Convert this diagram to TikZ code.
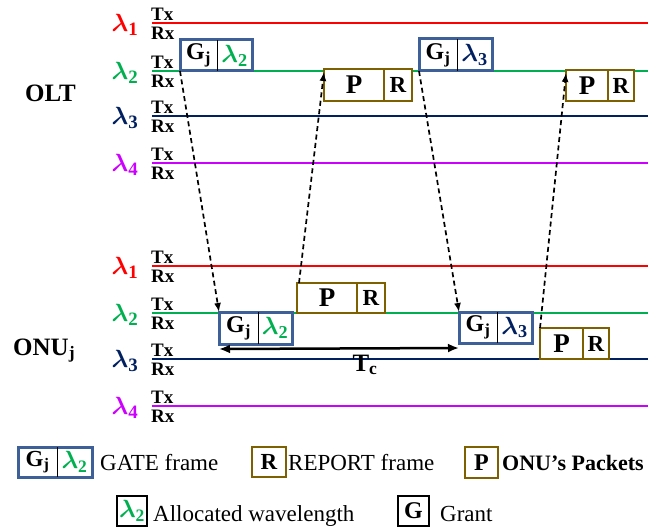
\documentclass[tikz,border=0pt]{standalone}
\usepackage{bm}
\usepackage{fontspec}
\setmainfont{Liberation Serif}
\usetikzlibrary{arrows.meta}

\definecolor{wlred}{HTML}{FF0000}
\definecolor{wlgreen}{HTML}{00B050}
\definecolor{wlnavy}{HTML}{002060}
\definecolor{wlviolet}{HTML}{CC00FF}
\definecolor{gateblue}{HTML}{3E6098}
\definecolor{repbrown}{HTML}{7F6000}

% bold italic lambda with a bold subscript
\newcommand{\lam}[1]{$\bm{\lambda}_{\mathbf{#1}}$}
\newcommand{\gj}{G\textsubscript{j}}

\tikzset{
  wl/.style={line width=2.8pt},
  lamlab/.style={inner sep=0pt, font=\fontsize{27}{28}\selectfont},
  txrx/.style={inner sep=0pt, anchor=west, font=\bfseries\fontsize{19}{20}\selectfont},
  side/.style={inner sep=0pt, anchor=base west, font=\bfseries\fontsize{25}{26}\selectfont},
  gcell/.style={inner sep=0pt, outer sep=0pt, fill=white, font=\bfseries\fontsize{24}{25}\selectfont},
  lamcell/.style={gcell, font=\fontsize{26}{27}\selectfont},
  gframe/.style={draw=gateblue, line width=3pt},
  gdiv/.style={draw=black, line width=1pt},
  prcell/.style={draw=repbrown, line width=2.8pt, fill=white, inner sep=0pt, outer sep=0pt},
  pfont/.style={font=\bfseries\fontsize{27}{28}\selectfont},
  rfont/.style={font=\bfseries\fontsize{23}{24}\selectfont},
  dasharr/.style={draw=black, line width=1.7pt, dash pattern=on 5pt off 3.5pt,
    -{Latex[length=9pt,width=7pt]}},
  tcarr/.style={draw=black, line width=2.5pt,
    {Latex[length=11pt,width=9pt]}-{Latex[length=11pt,width=9pt]}},
  legtext/.style={inner sep=0pt, anchor=base west, font=\fontsize{23}{24}\selectfont},
  legbox/.style={draw=black, line width=1.5pt, inner sep=0pt, outer sep=0pt, fill=white}
}

\begin{document}
\begin{tikzpicture}[x=1pt, y=-1pt]
\useasboundingbox[fill=white] (0,0) rectangle (661,527);

% ---------- wavelength channels ----------
\foreach \i/\y/\c in {1/23/wlred, 2/71/wlgreen, 3/116/wlnavy, 4/163/wlviolet}{
  \draw[wl, \c] (152,\y) -- (648,\y);
  \node[lamlab, text=\c] (olam\i) at (125,\y+2) {\lam{\i}};
  \node[txrx] (otx\i) at (151,\y-9) {Tx};
  \node[txrx] (orx\i) at (151,\y+10) {Rx};
}
\foreach \i/\y/\c in {1/266/wlred, 2/313/wlgreen, 3/359/wlnavy, 4/406/wlviolet}{
  \draw[wl, \c] (152,\y) -- (648,\y);
  \node[lamlab, text=\c] (ulam\i) at (125,\y+2) {\lam{\i}};
  \node[txrx] (utx\i) at (151,\y-9) {Tx};
  \node[txrx] (urx\i) at (151,\y+10) {Rx};
}

\node[side] (olt) at (25,101) {OLT};
\node[side] (onu) at (13,355) {ONU\textsubscript{j}};

% ---------- GATE frames ----------
% OLT, grant on lambda 2
\node[gcell, minimum width=37pt, minimum height=31pt, anchor=north west] (og1a) at (180,40) {\gj};
\node[lamcell, minimum width=35pt, minimum height=31pt, anchor=west] (og1b) at (og1a.east) {\textcolor{wlgreen}{\lam{2}}};
\draw[gframe] (og1a.north west) rectangle (og1b.south east);
\draw[gdiv] (og1a.north east) -- (og1a.south east);

% OLT, grant on lambda 3
\node[gcell, minimum width=38pt, minimum height=32pt, anchor=north west] (og2a) at (419,39) {\gj};
\node[lamcell, minimum width=35pt, minimum height=32pt, anchor=west] (og2b) at (og2a.east) {\textcolor{wlnavy}{\lam{3}}};
\draw[gframe] (og2a.north west) rectangle (og2b.south east);
\draw[gdiv] (og2a.north east) -- (og2a.south east);

% ONU, grant on lambda 2
\node[gcell, minimum width=39pt, minimum height=32pt, anchor=north west] (ug1a) at (219,312) {\gj};
\node[lamcell, minimum width=34pt, minimum height=32pt, anchor=west] (ug1b) at (ug1a.east) {\textcolor{wlgreen}{\lam{2}}};
\draw[gframe] (ug1a.north west) rectangle (ug1b.south east);
\draw[gdiv] (ug1a.north east) -- (ug1a.south east);

% ONU, grant on lambda 3
\node[gcell, minimum width=38pt, minimum height=31pt, anchor=north west] (ug2a) at (459,312) {\gj};
\node[lamcell, minimum width=35pt, minimum height=31pt, anchor=west] (ug2b) at (ug2a.east) {\textcolor{wlnavy}{\lam{3}}};
\draw[gframe] (ug2a.north west) rectangle (ug2b.south east);
\draw[gdiv] (ug2a.north east) -- (ug2a.south east);

% ---------- packets + REPORT ----------
\node[prcell, pfont, minimum width=60pt, minimum height=32pt, anchor=north west] (op1p) at (324,69) {P};
\node[prcell, rfont, minimum width=28pt, minimum height=32pt, anchor=west] (op1r) at (op1p.east) {R};

\node[prcell, pfont, minimum width=42pt, minimum height=31pt, anchor=north west] (op2p) at (566,70) {P};
\node[prcell, rfont, minimum width=26pt, minimum height=31pt, anchor=west] (op2r) at (op2p.east) {R};

\node[prcell, pfont, minimum width=60pt, minimum height=30pt, anchor=north west] (up1p) at (297,283) {P};
\node[prcell, rfont, minimum width=28pt, minimum height=30pt, anchor=west] (up1r) at (up1p.east) {R};

\node[prcell, pfont, minimum width=43pt, minimum height=31pt, anchor=north west] (up2p) at (540,328) {P};
\node[prcell, rfont, minimum width=26pt, minimum height=31pt, anchor=west] (up2r) at (up2p.east) {R};

% ---------- message flow ----------
\draw[dasharr] (og1a.south west) -- (ug1a.north west);
\draw[dasharr] ([xshift=2pt]up1p.north west) -- ([yshift=-3pt]op1p.north west);
\draw[dasharr] (og2a.south west) -- (ug2a.north west);
\draw[dasharr] (up2p.north west) -- ([yshift=-3pt]op2p.north west);

% cycle time
\draw[tcarr] ([yshift=-5pt]ug1a.south west) -- ([yshift=-5pt]ug2a.south west);
\node[inner sep=0pt, font=\bfseries\fontsize{25}{26}\selectfont] (tc) at (365,365) {T\textsubscript{c}};

% ---------- legend ----------
\node[gcell, minimum width=39pt, minimum height=30pt, anchor=north west, font=\bfseries\fontsize{23}{24}\selectfont] (lga) at (18,447) {\gj};
\node[lamcell, minimum width=35pt, minimum height=30pt, anchor=west, font=\fontsize{25}{26}\selectfont] (lgb) at (lga.east) {\textcolor{wlgreen}{\lam{2}}};
\draw[gframe] (lga.north west) rectangle (lgb.south east);
\draw[gdiv] (lga.north east) -- (lga.south east);
\node[legtext] (lgt) at (100,470) {GATE frame};

\node[prcell, line width=2pt, rfont, minimum width=34pt, minimum height=30pt, anchor=north west] (lr) at (252,447) {R};
\node[legtext] (lrt) at (288,470) {REPORT frame};

\node[prcell, line width=2pt, font=\bfseries\fontsize{24}{25}\selectfont, minimum width=33pt, minimum height=31pt, anchor=north west] (lp) at (465,447) {P};
\node[legtext, font=\bfseries\fontsize{22}{23}\selectfont] (lpt) at (502,470) {ONU’s Packets};

\node[legbox, font=\fontsize{25}{26}\selectfont, minimum width=30pt, minimum height=30pt, anchor=north west] (ll) at (117,496) {\textcolor{wlgreen}{\lam{2}}};
\node[legtext] (llt) at (153,521) {Allocated wavelength};

\node[legbox, font=\bfseries\fontsize{24}{25}\selectfont, minimum width=31pt, minimum height=30pt, anchor=north west] (lgr) at (398,496) {G};
\node[legtext] (lgrt) at (440,521) {Grant};
\end{tikzpicture}
\end{document}
